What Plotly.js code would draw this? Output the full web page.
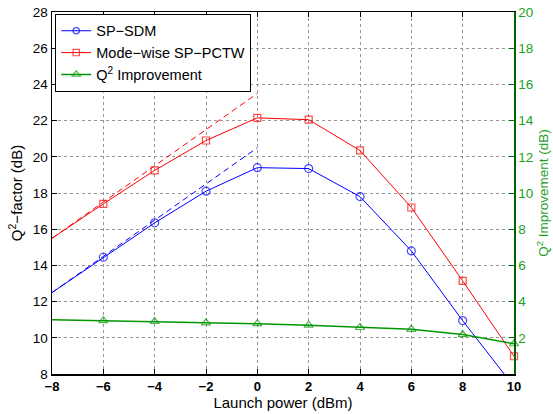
<!DOCTYPE html>
<html><head><meta charset="utf-8">
<script src="https://cdn.plot.ly/plotly-3.0.1.min.js"></script>
<style>html,body{margin:0;padding:0;background:#fff}#chart{width:553px;height:414px}</style>
</head><body><div id="chart"></div>
<script>
var launchPower = [-8, -6, -4, -2, 0, 2, 4, 6, 8, 10];
var spSdm = [12.5, 14.45, 16.35, 18.1, 19.4, 19.35, 17.8, 14.8, 10.95, 7.3];
var modeWise = [15.5, 17.4, 19.25, 20.9, 22.15, 22.05, 20.35, 17.2, 13.15, 8.98];
var improvement = [3.0, 2.95, 2.9, 2.83, 2.78, 2.7, 2.57, 2.47, 2.18, 1.67];
var fitX = [-8, 0];
var fitSdm = [12.5, 20.5];
var fitModeWise = [15.5, 23.5];
var markSdm = [0, 8, 8, 8, 8, 8, 8, 8, 8, 0];
var markMode = [0, 7, 7, 7, 7, 7, 7, 7, 7, 7];
var markImp = [0, 8, 8, 8, 8, 8, 8, 8, 8, 8];

var GREEN = 'rgb(0,150,0)';
var traces = [
  {x: fitX, y: fitSdm, mode: 'lines', line: {color: 'rgb(0,0,255)', width: 1, dash: '6px,4px'}, showlegend: false, hoverinfo: 'skip'},
  {x: fitX, y: fitModeWise, mode: 'lines', line: {color: 'rgb(255,0,0)', width: 1, dash: '6px,4px'}, showlegend: false, hoverinfo: 'skip'},
  {x: launchPower, y: spSdm, name: 'SP−SDM', mode: 'lines+markers', line: {color: 'rgb(0,0,255)', width: 1},
   marker: {symbol: 'circle-open', size: markSdm, color: 'rgb(0,0,255)', line: {width: 1.2}}, cliponaxis: true},
  {x: launchPower, y: modeWise, name: 'Mode−wise SP−PCTW', mode: 'lines+markers', line: {color: 'rgb(255,0,0)', width: 1},
   marker: {symbol: 'square-open', size: markMode, color: 'rgb(255,0,0)', line: {width: 1.2}}, cliponaxis: false},
  {x: launchPower, y: improvement, name: 'Q<sup>2</sup> Improvement', yaxis: 'y2', mode: 'lines+markers', line: {color: GREEN, width: 1.5},
   marker: {symbol: 'triangle-up-open', size: markImp, color: GREEN, line: {width: 1.2}}, cliponaxis: false}
];

var layout = {
  width: 553, height: 414,
  margin: {l: 52, r: 39, t: 12, b: 40},
  paper_bgcolor: '#fff', plot_bgcolor: '#fff',
  font: {family: 'Liberation Sans, Arial, sans-serif', size: 13, color: '#000'},
  showlegend: true,
  legend: {x: 0.007, y: 0.995, xanchor: 'left', yanchor: 'top', bgcolor: '#fff', bordercolor: '#000', borderwidth: 1,
           font: {size: 14.5}, tracegroupgap: 0, itemwidth: 30},
  xaxis: {range: [-8, 10], dtick: 2, tick0: -8, ticks: 'inside', ticklen: 5, tickcolor: '#000', showline: true, linecolor: '#000', linewidth: 1.5,
          mirror: 'ticks', showgrid: true, gridcolor: 'rgb(150,150,150)', griddash: 'dot', gridwidth: 1, zeroline: false,
          tickfont: {size: 13, weight: 'bold'},
          title: {text: 'Launch power (dBm)', font: {size: 15}, standoff: 3}},
  yaxis: {range: [8, 28], dtick: 2, tick0: 8, ticks: 'inside', ticklen: 5, tickcolor: '#000', showline: true, linecolor: '#000', linewidth: 1.5,
          showgrid: true, gridcolor: 'rgb(150,150,150)', griddash: 'dot', gridwidth: 1, zeroline: false,
          tickfont: {size: 13.5},
          title: {text: 'Q<sup>2</sup>−factor (dB)', font: {size: 15}, standoff: 6}},
  yaxis2: {range: [0, 20], tickvals: [2, 4, 6, 8, 10, 12, 14, 16, 18, 20], overlaying: 'y', side: 'right', ticks: 'inside', ticklen: 5,
           tickcolor: 'rgb(0,110,0)', showline: true, linecolor: 'rgb(0,100,0)', linewidth: 1.5, showgrid: false, zeroline: false,
           tickfont: {size: 13.5, color: 'rgb(30,160,30)'},
           title: {text: 'Q<sup>2</sup> Improvement (dB)', font: {size: 13.5, color: 'rgb(30,160,30)'}, standoff: 6}}
};
Plotly.newPlot('chart', traces, layout, {displayModeBar: false, staticPlot: true});
</script></body></html>
